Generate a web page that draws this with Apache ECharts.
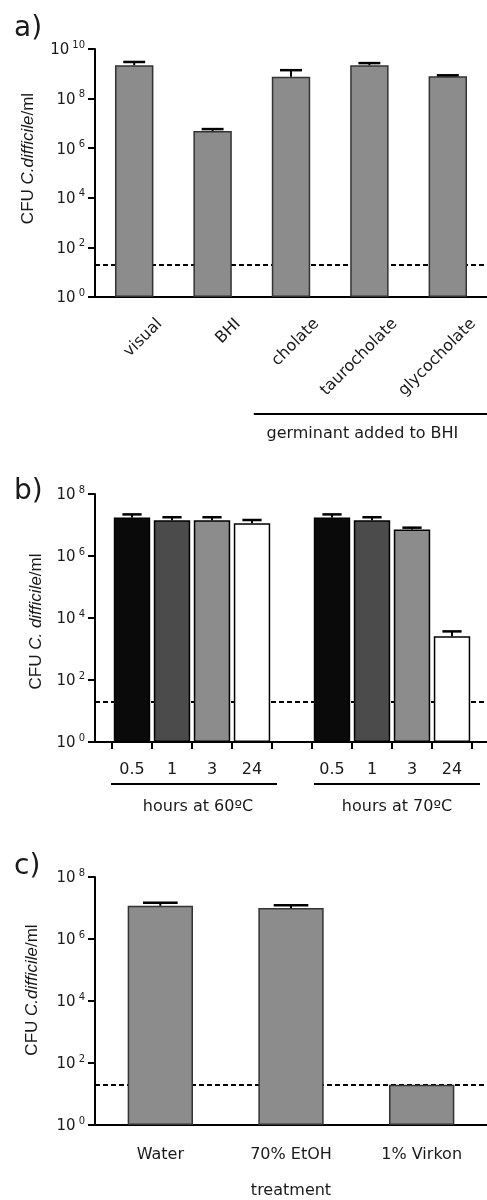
<!DOCTYPE html>
<html>
<head>
<meta charset="utf-8">
<script src="https://cdn.jsdelivr.net/npm/echarts@6/dist/echarts.min.js"></script>
<style>
html, body { margin: 0; padding: 0; background: #fff; }
#chart { width: 487px; height: 1200px; }
</style>
</head>
<body>
<div id="chart"></div>
<script>
// a) germinants
var germCats = ['visual', 'BHI', 'cholate', 'taurocholate', 'glycocholate'];
var germMean = [2.2e9, 4.9e6, 7.6e8, 2.2e9, 7.9e8];
var germErrTop = [3.0e9, 5.9e6, 1.4e9, 2.7e9, 8.7e8];

// b) heat treatment
var hours = ['0.5', '1', '3', '24'];
var heat60Mean = [1.73e7, 1.42e7, 1.42e7, 1.13e7];
var heat60ErrTop = [2.2e7, 1.78e7, 1.78e7, 1.45e7];
var heat70Mean = [1.73e7, 1.42e7, 7.1e6, 2.6e3];
var heat70ErrTop = [2.2e7, 1.78e7, 8.2e6, 3.7e3];
var hourColors = ['#0a0a0a', '#4b4b4b', '#8c8c8c', '#ffffff'];

// c) disinfectants
var treatCats = ['Water', '70% EtOH', '1% Virkon'];
var treatMean = [1.18e7, 1.0e7, 20];
var treatErrTop = [1.49e7, 1.22e7, null];

var detectionLimit = 20;

var FONT = 'DejaVu Sans';
var NAMEFONT = 'Liberation Sans';
var INK = '#1a1a1a';

var chart = echarts.init(document.getElementById('chart'));

function powLabel(v) {
  var e = Math.round(Math.log10(v));
  return '{b|10}{s|' + e + '}';
}

var powRich = {
  b: { fontFamily: FONT, fontSize: 15, lineHeight: 18, color: INK, verticalAlign: 'bottom' },
  s: { fontFamily: FONT, fontSize: 10, lineHeight: 10, color: INK, verticalAlign: 'top', padding: [0, 0, 0, 3] }
};

function logAxis(grid, max, name, gap, pad) {
  return {
    type: 'log', logBase: 10, gridIndex: grid, min: 1, max: max, interval: 2,
    axisLine: { show: true, lineStyle: { color: '#000', width: 2 } },
    axisTick: { show: true, length: 7, lineStyle: { color: '#000', width: 2 } },
    axisLabel: { margin: 10, formatter: powLabel, rich: powRich },
    splitLine: { show: false },
    name: name, nameLocation: 'middle', nameRotate: 90, nameGap: gap,
    nameTextStyle: {
      padding: pad,
      rich: {
        n: { fontFamily: NAMEFONT, fontSize: 17, color: INK },
        i: { fontFamily: NAMEFONT, fontSize: 17, color: INK, fontStyle: 'italic' }
      }
    }
  };
}

function hiddenLog(grid, max) {
  return { type: 'log', logBase: 10, gridIndex: grid, min: 1, max: max, interval: 2, show: false };
}

// upward error bar with a cap, capRatio is a share of the band
function errorBars(capRatio) {
  return function (params, api) {
    var x = api.value(0);
    var p0 = api.coord([x, api.value(1)]);
    var p1 = api.coord([x, api.value(2)]);
    var half = api.size([1, 0])[0] * capRatio / 2;
    return {
      type: 'group',
      children: [
        { type: 'line', shape: { x1: p0[0], y1: p0[1], x2: p1[0], y2: p1[1] }, style: { stroke: '#000', lineWidth: 2 } },
        { type: 'line', shape: { x1: p1[0] - half, y1: p1[1], x2: p1[0] + half, y2: p1[1] }, style: { stroke: '#000', lineWidth: 2.5 } }
      ]
    };
  };
}

function errData(means, tops, offset) {
  var out = [];
  means.forEach(function (m, i) {
    if (tops[i] != null) out.push([i + (offset || 0), m, tops[i]]);
  });
  return out;
}

function limitLine() {
  return {
    silent: true, symbol: 'none', z: 1,
    label: { show: false },
    lineStyle: { color: '#000', width: 2, type: [5, 3] },
    data: [{ yAxis: detectionLimit }]
  };
}

// b) category keys, with an empty slot between the two temperatures
var heatCats = hours.map(function (h) { return '60|' + h; })
  .concat(['gap'])
  .concat(hours.map(function (h) { return '70|' + h; }));
var heatBars = [];
heat60Mean.forEach(function (v, i) { heatBars.push({ value: v, itemStyle: { color: hourColors[i] } }); });
heatBars.push('-');
heat70Mean.forEach(function (v, i) { heatBars.push({ value: v, itemStyle: { color: hourColors[i] } }); });

var nameA = '{n|CFU }{i|C.difficile}{n|/ml}';
var nameB = '{n|CFU }{i|C. difficile}{n|/ml}';

var option = {
  animation: false,
  backgroundColor: '#fff',
  title: [
    { text: 'a)', left: 9, top: 10, textStyle: { fontFamily: FONT, fontSize: 28, fontWeight: 'normal', color: INK } },
    { text: 'b)', left: 9, top: 473, textStyle: { fontFamily: FONT, fontSize: 28, fontWeight: 'normal', color: INK } },
    { text: 'c)', left: 9, top: 848, textStyle: { fontFamily: FONT, fontSize: 28, fontWeight: 'normal', color: INK } }
  ],
  grid: [
    { left: 95, top: 49, width: 397, height: 248 },
    { left: 95, top: 494, width: 392, height: 248 },
    { left: 112, top: 494, width: 360, height: 248 },
    { left: 95, top: 877, width: 396, height: 248 }
  ],
  xAxis: [
    {
      type: 'category', gridIndex: 0, data: germCats,
      axisLine: { lineStyle: { color: '#000', width: 2 } },
      axisTick: { length: 7, lineStyle: { color: '#000', width: 2 } },
      axisLabel: {
        interval: 0, rotate: 45, align: 'right', verticalAlign: 'top',
        padding: [28, 0, 0, 0], margin: -1,
        fontFamily: FONT, fontSize: 16, color: INK
      }
    },
    {
      type: 'value', gridIndex: 1, min: 0, max: 1,
      axisLine: { show: true, lineStyle: { color: '#000', width: 2 } },
      axisTick: { show: false }, axisLabel: { show: false }, splitLine: { show: false }
    },
    {
      type: 'category', gridIndex: 2, data: heatCats,
      axisLine: { show: false },
      axisTick: { show: true, length: 7, lineStyle: { color: '#000', width: 2 } },
      axisLabel: {
        interval: 0, margin: 20, fontFamily: FONT, fontSize: 16, color: INK,
        formatter: function (v) { return v.split('|')[1] || ''; }
      }
    },
    {
      type: 'category', gridIndex: 3, data: treatCats,
      axisLine: { lineStyle: { color: '#000', width: 2 } },
      axisTick: { show: false },
      axisLabel: { interval: 0, margin: 22, fontFamily: FONT, fontSize: 16, color: INK },
      name: 'treatment', nameLocation: 'middle', nameGap: 58,
      nameTextStyle: { fontFamily: FONT, fontSize: 16, color: INK }
    }
  ],
  yAxis: [
    logAxis(0, 1e10, nameA, 58, [0, 0, 0, 29]),
    logAxis(1, 1e8, nameB, 50, [0, 7, 0, 0]),
    hiddenLog(2, 1e8),
    logAxis(3, 1e8, nameA, 54, [0, 0, 0, 22])
  ],
  series: [
    {
      type: 'bar', xAxisIndex: 0, yAxisIndex: 0, data: germMean, barWidth: '49%', z: 2,
      itemStyle: { color: '#8c8c8c', borderColor: '#333', borderWidth: 1.5 },
      markLine: limitLine()
    },
    {
      type: 'custom', xAxisIndex: 0, yAxisIndex: 0, z: 4,
      renderItem: errorBars(0.28), data: errData(germMean, germErrTop)
    },
    {
      type: 'line', xAxisIndex: 1, yAxisIndex: 1, data: [], z: 1,
      markLine: limitLine()
    },
    {
      type: 'bar', xAxisIndex: 2, yAxisIndex: 2, data: heatBars, barWidth: '91%', z: 2,
      itemStyle: { borderColor: '#000', borderWidth: 1.5 }
    },
    {
      type: 'custom', xAxisIndex: 2, yAxisIndex: 2, z: 4, renderItem: errorBars(0.48),
      data: errData(heat60Mean, heat60ErrTop).concat(errData(heat70Mean, heat70ErrTop, hours.length + 1))
    },
    {
      type: 'bar', xAxisIndex: 3, yAxisIndex: 3, data: treatMean, barWidth: '50%', z: 2,
      itemStyle: { color: '#8c8c8c', borderColor: '#333', borderWidth: 1.5 },
      markLine: limitLine()
    },
    {
      type: 'custom', xAxisIndex: 3, yAxisIndex: 3, z: 4,
      renderItem: errorBars(0.265), data: errData(treatMean, treatErrTop)
    }
  ]
};

chart.setOption(option);

// group brackets under the axes, placed from the category scales
function px(axisIndex, i) {
  return chart.convertToPixel({ xAxisIndex: axisIndex }, i);
}
var bandA = px(0, 1) - px(0, 0);
var bandB = px(2, 1) - px(2, 0);
var lineStyle = { stroke: '#000', lineWidth: 2 };
var textStyle = { fontFamily: FONT, fontSize: 16, fill: INK, textAlign: 'center', textVerticalAlign: 'middle' };

var aLeft = px(0, 2) - bandA / 2 + 2;
var aRight = chart.getWidth();
var b60 = [px(2, 0) - bandB / 2 - 1, px(2, 3) + bandB / 2 + 5];
var b70 = [px(2, 5) - bandB / 2 + 2, px(2, 8) + bandB / 2 + 8];

chart.setOption({
  graphic: [
    { type: 'line', shape: { x1: aLeft, y1: 414, x2: aRight, y2: 414 }, style: lineStyle },
    { type: 'text', x: (aLeft + aRight) / 2 - 8, y: 434, style: Object.assign({ text: 'germinant added to BHI' }, textStyle) },
    { type: 'line', shape: { x1: b60[0], y1: 784, x2: b60[1], y2: 784 }, style: lineStyle },
    { type: 'text', x: (b60[0] + b60[1]) / 2 + 4, y: 807, style: Object.assign({ text: 'hours at 60ºC' }, textStyle) },
    { type: 'line', shape: { x1: b70[0], y1: 784, x2: b70[1], y2: 784 }, style: lineStyle },
    { type: 'text', x: (b70[0] + b70[1]) / 2, y: 807, style: Object.assign({ text: 'hours at 70ºC' }, textStyle) }
  ]
});
</script>
</body>
</html>
